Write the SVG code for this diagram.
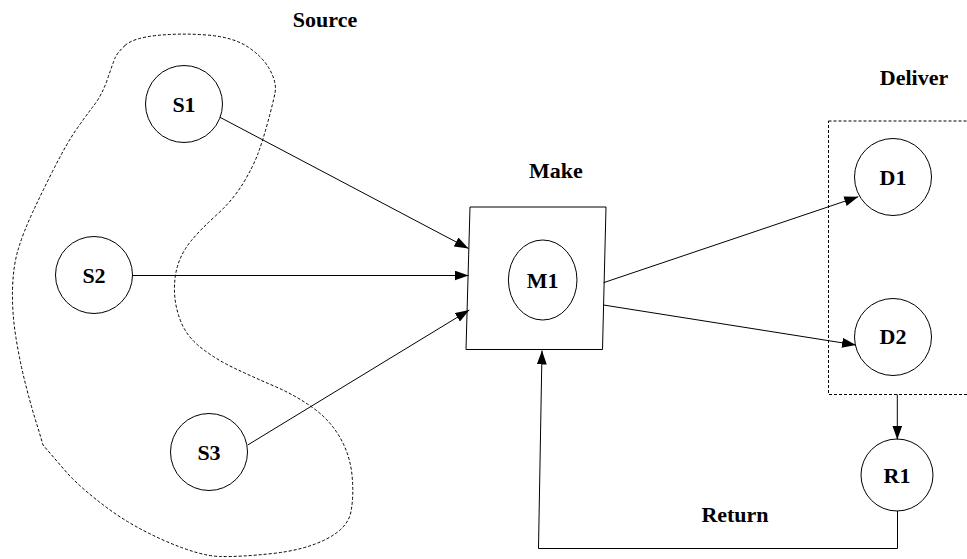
<svg xmlns="http://www.w3.org/2000/svg" width="967" height="559" viewBox="0 0 967 559">
<style>
.lbl{font-family:"Liberation Serif","Times New Roman",serif;font-weight:bold;font-size:22px;fill:#000;text-anchor:middle}
.node{fill:#fff;stroke:#000;stroke-width:1}
.grp{fill:none;stroke:#000;stroke-width:1;stroke-dasharray:3,2}
.edge{fill:none;stroke:#000;stroke-width:1}
</style>
<defs>
<marker id="arr" viewBox="0 0 14 10" refX="14" refY="5" markerWidth="14" markerHeight="10" markerUnits="userSpaceOnUse" orient="auto">
<path d="M0,0 L14,5 L0,10 z" fill="#000"/>
</marker>
</defs>
<rect width="967" height="559" fill="#fff"/>
<g id="source-group">
<path class="grp" d="M125,45.5 Q133,38 156.5,35.5 Q180,33 206.5,35 Q233,37 248,47 Q263,57 270,70 Q277,83 275,93 Q273,103 268,121.5 Q263,140 258,153.5 Q253,167 243,183.5 Q233,200 216.5,215 Q200,230 191,241 Q182,252 178,264.5 Q174,277 174.5,292 Q175,307 181,322 Q187,337 202,348.5 Q217,360 235,368.5 Q253,377 274,386 Q295,395 312.5,407.5 Q330,420 340,437.5 Q350,455 352,475 Q354,495 351,511.5 Q348,528 326.5,539 Q305,550 272.5,553.5 Q240,557 220,556.5 Q200,556 166.5,541.5 Q133,527 108,508.5 Q83,490 68,474 L43,445 L38,428 Q33,413 26.5,388 Q20,363 16,338 Q12,313 12.5,290 Q13,267 18,250 Q23,233 33,211.5 Q43,190 55,166.5 Q67,143 76,130 Q85,117 93.5,106 Q102,95 107.5,79 Q113,63 115,58 Q117,53 125,45.5 Z"/>
<text class="lbl" x="325" y="27">Source</text>
</g>
<g id="deliver-group">
<rect class="grp" x="828.5" y="121" width="160" height="273.5"/>
<text class="lbl" x="914" y="85">Deliver</text>
</g>
<g id="make-group">
<path class="node" d="M470,207 L606,207 L602.5,349.5 L466,349.5 Z"/>
<text class="lbl" x="556" y="178">Make</text>
</g>
<g id="S1"><circle class="node" cx="184" cy="104" r="38.5"/><text class="lbl" x="184" y="112">S1</text></g>
<g id="S2"><circle class="node" cx="94" cy="275" r="38.5"/><text class="lbl" x="94" y="283">S2</text></g>
<g id="S3"><circle class="node" cx="209" cy="452" r="38.5"/><text class="lbl" x="209" y="460">S3</text></g>
<g id="M1"><ellipse class="node" cx="542.7" cy="280" rx="34.3" ry="40"/><text class="lbl" x="542.7" y="287.5">M1</text></g>
<g id="D1"><circle class="node" cx="893" cy="177" r="38.5"/><text class="lbl" x="893" y="184.5">D1</text></g>
<g id="D2"><circle class="node" cx="893" cy="337" r="38.5"/><text class="lbl" x="893" y="344">D2</text></g>
<g id="R1"><circle class="node" cx="897" cy="475" r="36"/><text class="lbl" x="897" y="483">R1</text></g>
<g id="Return"><text class="lbl" x="735" y="522">Return</text></g>
<g id="connectors">
<line class="edge" x1="220" y1="117.3" x2="468.5" y2="248.5" marker-end="url(#arr)"/>
<line class="edge" x1="132.5" y1="275.5" x2="468.5" y2="275.5" marker-end="url(#arr)"/>
<line class="edge" x1="247.7" y1="445" x2="469.3" y2="310" marker-end="url(#arr)"/>
<line class="edge" x1="603.5" y1="282.7" x2="858.3" y2="196.7" marker-end="url(#arr)"/>
<line class="edge" x1="603.5" y1="305" x2="856" y2="345" marker-end="url(#arr)"/>
<line class="edge" x1="897.3" y1="394.5" x2="897.3" y2="439.5" marker-end="url(#arr)"/>
<path class="edge" d="M897.5,511 L897.5,548.5 L538.5,548.5 L542,350.5" marker-end="url(#arr)"/>
</g>
</svg>
